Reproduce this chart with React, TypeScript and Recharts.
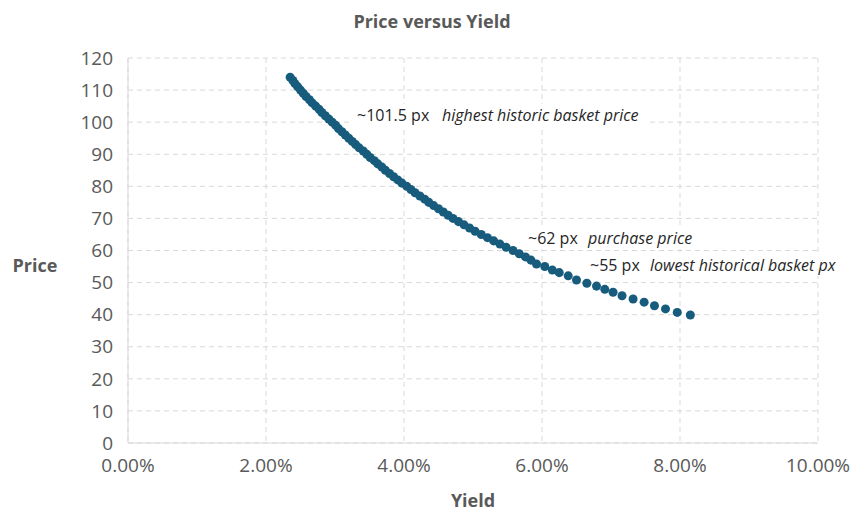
import { ScatterChart, Scatter, XAxis, YAxis, CartesianGrid } from 'recharts';

// Yield (%) and price
const yields = [
  2.35, 2.39, 2.42, 2.46, 2.5,
  2.54, 2.58, 2.63, 2.67, 2.72, 2.77, 2.81, 2.86, 2.91, 2.96,
  3.01, 3.05, 3.1, 3.15, 3.2, 3.25, 3.3, 3.35, 3.41, 3.46,
  3.51, 3.57, 3.62, 3.68, 3.73, 3.79, 3.85, 3.91, 3.97, 4.04,
  4.1, 4.16, 4.23, 4.3, 4.36, 4.43, 4.5, 4.57, 4.64, 4.71,
  4.79, 4.87, 4.95, 5.03, 5.12, 5.21, 5.3, 5.39, 5.48, 5.58,
  5.67, 5.76, 5.84,
  5.92, 6.04, 6.15, 6.25, 6.38, 6.5, 6.65, 6.79, 6.91, 7.03, 7.16,
  7.32, 7.48, 7.63, 7.79, 7.96, 8.15,
];

const prices = [
  114, 113, 112, 111, 110,
  109, 108, 107, 106, 105, 104, 103, 102, 101, 100,
  99, 98, 97, 96, 95, 94, 93, 92, 91, 90,
  89, 88, 87, 86, 85, 84, 83, 82, 81, 80,
  79, 78, 77, 76, 75, 74, 73, 72, 71, 70,
  69, 68, 67, 66, 65, 64, 63, 62, 61, 60,
  59, 58, 57,
  55.8, 55.0, 53.9, 53.1, 52.1, 50.8, 49.8, 48.9, 47.9, 47.0, 45.9,
  44.9, 43.9, 42.8, 41.8, 40.7, 39.9,
];

const xTicks = [0, 2, 4, 6, 8, 10];
const yTicks = [0, 10, 20, 30, 40, 50, 60, 70, 80, 90, 100, 110, 120];

const data = yields.map((y, i) => ({ yield: y, price: prices[i] }));

const FONT = '"Open Sans", sans-serif';
const GREY = '#595959';
const DOT = '#175c7d';

function Note({ x, y, w, lead, note, noteX }: any) {
  return (
    <g>
      <rect x={x - 6} y={y - 11} width={w} height={22} fill="#ffffff" />
      <text x={x} y={y} dominantBaseline="central" fontSize={16} fill="#262626" fontFamily={FONT}>
        {lead}
      </text>
      <text x={noteX} y={y} dominantBaseline="central" fontSize={16} fontStyle="italic" fill="#262626" fontFamily={FONT}>
        {note}
      </text>
    </g>
  );
}

export default function App() {
  return (
    <div style={{ position: 'absolute', left: 0, top: 0, width: 864, height: 512, background: '#fff' }}>
      <ScatterChart width={864} height={512} margin={{ top: 58, right: 46, bottom: 0, left: 0 }}>
        <CartesianGrid stroke="#d9d9d9" strokeDasharray="5 4" />
        <XAxis
          type="number"
          dataKey="yield"
          domain={[0, 10]}
          ticks={xTicks}
          tickFormatter={(v: number) => v.toFixed(2) + '%'}
          height={69}
          tickLine={false}
          tickSize={0}
          tickMargin={16}
          axisLine={{ stroke: '#d9d9d9' }}
          tick={{ fill: GREY, fontSize: 19, fontFamily: FONT }}
          interval={0}
        />
        <YAxis
          type="number"
          dataKey="price"
          domain={[0, 120]}
          ticks={yTicks}
          width={128}
          tickLine={false}
          tickSize={0}
          tickMargin={15}
          axisLine={{ stroke: '#d9d9d9' }}
          tick={{ fill: GREY, fontSize: 19, fontFamily: FONT }}
          interval={0}
        />
        <Scatter data={data} fill={DOT} shape="circle" isAnimationActive={false} />
        <Note x={357} y={115} w={298} lead="~101.5 px" note="highest historic basket price" noteX={442} />
        <Note x={528} y={238} w={172} lead="~62 px" note="purchase price" noteX={588} />
        <Note x={590} y={265} w={258} lead="~55 px" note="lowest historical basket px" noteX={650} />
        <text x={432} y={21} textAnchor="middle" dominantBaseline="central" fontSize={18} fontWeight="bold" fill={GREY} fontFamily={FONT}>
          Price versus Yield
        </text>
        <text x={35} y={265} textAnchor="middle" dominantBaseline="central" fontSize={18} fontWeight="bold" fill={GREY} fontFamily={FONT}>
          Price
        </text>
        <text x={473} y={500} textAnchor="middle" dominantBaseline="central" fontSize={18} fontWeight="bold" fill={GREY} fontFamily={FONT}>
          Yield
        </text>
      </ScatterChart>
    </div>
  );
}
